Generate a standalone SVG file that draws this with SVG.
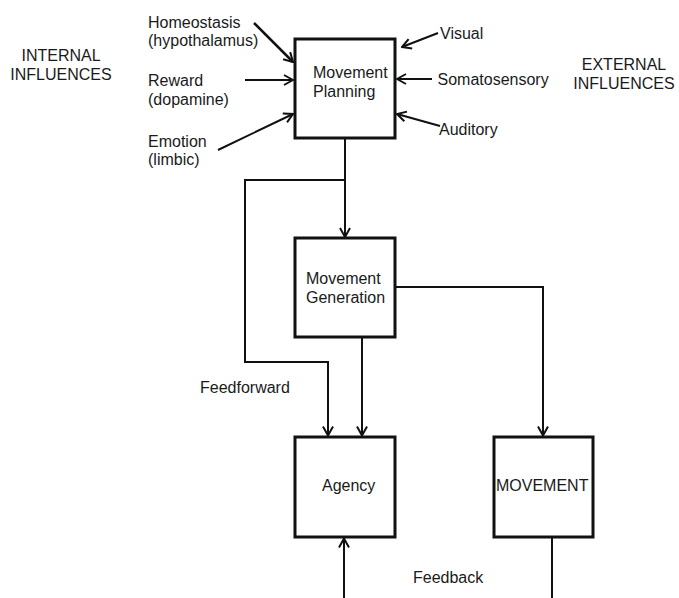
<svg xmlns="http://www.w3.org/2000/svg" width="679" height="598" viewBox="0 0 679 598">
<style>
text{font-family:"Liberation Sans",Arial,sans-serif;font-size:16px;fill:#1a1a1a}
.box{fill:#fff;stroke:#111;stroke-width:3}
.ln{fill:none;stroke:#111;stroke-width:2}
.ar{marker-end:url(#ah)}
</style>
<defs>
<marker id="ah" markerUnits="userSpaceOnUse" viewBox="0 0 12 12" markerWidth="12" markerHeight="12" refX="11" refY="6" orient="auto">
<path d="M2,1 L11,6 L2,11" fill="none" stroke="#111" stroke-width="2"/>
</marker>
</defs>
<g id="labels">
<text x="61" y="61" text-anchor="middle">INTERNAL</text>
<text x="61" y="80" text-anchor="middle">INFLUENCES</text>
<text x="624" y="70" text-anchor="middle">EXTERNAL</text>
<text x="624" y="89" text-anchor="middle">INFLUENCES</text>
<text x="148" y="27.5">Homeostasis</text>
<text x="148" y="46">(hypothalamus)</text>
<text x="148" y="86">Reward</text>
<text x="148" y="105">(dopamine)</text>
<text x="148" y="146.5">Emotion</text>
<text x="148" y="165">(limbic)</text>
<text x="440" y="39">Visual</text>
<text x="437.5" y="85">Somatosensory</text>
<text x="439" y="135">Auditory</text>
<text x="200" y="392.5">Feedforward</text>
<text x="413" y="582.5">Feedback</text>
</g>
<g id="connectors">
<line class="ln ar" x1="254" y1="23" x2="293" y2="62" style="stroke-width:2.5"/>
<line class="ln ar" x1="245" y1="80" x2="293" y2="80"/>
<line class="ln ar" x1="218" y1="150" x2="293" y2="114"/>
<line class="ln ar" x1="438" y1="33" x2="402" y2="47"/>
<line class="ln ar" x1="432" y1="79" x2="397" y2="79"/>
<line class="ln ar" x1="440" y1="126" x2="397" y2="114"/>
<line class="ln ar" x1="345" y1="139" x2="345" y2="237"/>
<polyline class="ln ar" points="345,180 245,180 245,362 328,362 328,435.5"/>
<line class="ln ar" x1="362" y1="338" x2="362" y2="435.5"/>
<polyline class="ln ar" points="396,287 543,287 543,435.5"/>
<line class="ln ar" x1="344" y1="598" x2="344" y2="538.5"/>
<line class="ln" x1="552" y1="538" x2="552" y2="598"/>
</g>
<g id="planning">
<rect class="box" x="295" y="39" width="100" height="99"/>
<text x="313" y="78">Movement</text>
<text x="313" y="97">Planning</text>
</g>
<g id="generation">
<rect class="box" x="295" y="238" width="100" height="99"/>
<text x="306" y="284">Movement</text>
<text x="306" y="303">Generation</text>
</g>
<g id="agency">
<rect class="box" x="295" y="437" width="100" height="100"/>
<text x="322" y="491">Agency</text>
</g>
<g id="movement">
<rect class="box" x="494" y="437" width="99" height="100"/>
<text x="496" y="491">MOVEMENT</text>
</g>
</svg>
